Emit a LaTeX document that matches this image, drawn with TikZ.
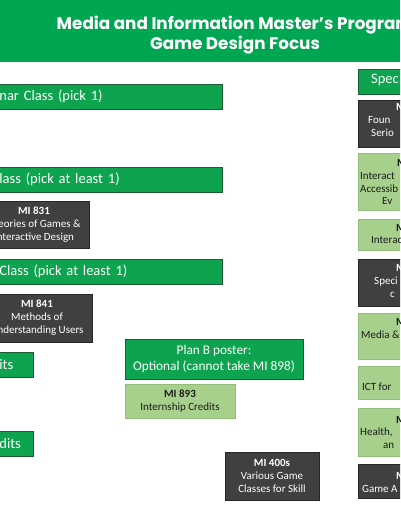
\documentclass[tikz,border=0pt]{standalone}
\usepackage{fontspec}
\setmainfont{Carlito}
\newfontfamily\titlefont{Poppins}
\usepackage{xcolor}
\definecolor{headgreen}{RGB}{0,166,81}
\definecolor{bargreen}{RGB}{14,163,78}
\definecolor{baredge}{RGB}{28,92,52}
\definecolor{boxgray}{RGB}{64,64,64}
\definecolor{boxedge}{RGB}{38,38,38}
\definecolor{lightgreen}{RGB}{168,208,141}
\definecolor{lightedge}{RGB}{148,188,122}
\definecolor{lighttext}{RGB}{28,28,28}
\tikzset{
  greenbar/.style={draw=baredge,fill=bargreen,line width=0.8pt,text=white,font=\fontsize{14.5}{17}\selectfont,
    minimum height=25pt,inner ysep=0pt,anchor=west,align=left},
  longbar/.style={greenbar,inner xsep=29pt,text width=194pt},
  shortbar/.style={greenbar,inner xsep=9pt,text width=25pt},
  darkbox/.style={draw=boxedge,fill=boxgray,line width=0.8pt,text=white,font=\fontsize{11}{13}\selectfont,align=center,inner sep=0pt},
  lightbox/.style={draw=lightedge,fill=lightgreen,line width=0.8pt,text=lighttext,font=\fontsize{11}{13}\selectfont,align=center,inner sep=0pt},
  sidebox/.style={anchor=north west,minimum width=100pt},
  frag/.style={anchor=mid west,inner sep=0pt,font=\fontsize{11}{13}\selectfont},
}
\begin{document}
\begin{tikzpicture}[x=1pt,y=-1pt]
\useasboundingbox (0,0) rectangle (400,516);
\clip (0,0) rectangle (400,516);
\fill[white] (0,0) rectangle (400,516);
\fill[headgreen] (0,0) rectangle (400,62);
\node[text=white,font=\titlefont\bfseries\fontsize{16.8}{20}\selectfont,align=center] (title) at (235,35)
  {Media and Information Master’s Program\\Game Design Focus};
% left column
\node[longbar] (seminar) at (-30,96.5) {nar Class (pick 1)};
\node[longbar] (theory) at (-30,179.5) {lass (pick at least 1)};
\node[darkbox,minimum width=110pt,minimum height=47pt] (mi831) at (34,224.5) {\textbf{MI 831}\\Theories of Games \&\\Interactive Design};
\node[longbar] (method) at (-30,271.5) {Class (pick at least 1)};
\node[darkbox,minimum width=110pt,minimum height=48pt] (mi841) at (37,318) {\textbf{MI 841}\\Methods of\\Understanding Users};
\node[shortbar] (credA) at (-10,364.5) {its};
\node[shortbar] (credB) at (-10,444) {dits};
% middle
\node[greenbar,align=center,inner sep=0pt,minimum width=178pt,minimum height=40pt,anchor=center,
  font=\fontsize{13.3}{16}\selectfont] (planb) at (214,359) {Plan B poster:\\Optional (cannot take MI 898)};
\node[lightbox,minimum width=110pt,minimum height=34pt] (mi893) at (180,401) {\textbf{MI 893}\\Internship Credits};
\node[darkbox,minimum width=94pt,minimum height=48pt] (mi400) at (272,476) {\textbf{MI 400s}\\Various Game\\Classes for Skill};
% right column
\node[greenbar,anchor=north west,minimum width=100pt] (spec) at (358,69) {};
\node[darkbox,sidebox,minimum height=47pt] (sideA) at (358,100) {};
\node[lightbox,sidebox,minimum height=57pt] (sideB) at (358,153) {};
\node[lightbox,sidebox,minimum height=31pt] (sideC) at (358,219) {};
\node[darkbox,sidebox,minimum height=47pt] (sideD) at (358,259) {};
\node[lightbox,sidebox,minimum height=46pt] (sideE) at (358,313) {};
\node[lightbox,sidebox,minimum height=33pt] (sideF) at (358,366) {};
\node[lightbox,sidebox,minimum height=48pt] (sideG) at (358,408) {};
\node[darkbox,sidebox,minimum height=34pt] (sideH) at (358,464) {};
\node[frag,text=white,font=\fontsize{14.5}{17}\selectfont] (specT) at (371,81.5) {Spec};
\foreach \fx/\fy/\ft [count=\i] in {396/108/\textbf{M},368/121/Foun,371/134/Serio,
    396/269/\textbf{M},374/282/Speci,390/295/c,396/477/\textbf{M},362/490/Game A}
  \node[frag,text=white] (fragW\i) at (\fx,\fy) {\ft};
\foreach \fx/\fy/\ft [count=\i] in {397/164/\textbf{M},360/177/Interact,360/190/Accessib,382/202/Ev,
    396/229/\textbf{M},371/241/Interac,396/323/\textbf{M},361/336/Media \&,362/388/ICT for,
    396/421/\textbf{M},360/433/{Health,},383/446/an}
  \node[frag,text=lighttext] (fragL\i) at (\fx,\fy) {\ft};
\end{tikzpicture}
\end{document}
